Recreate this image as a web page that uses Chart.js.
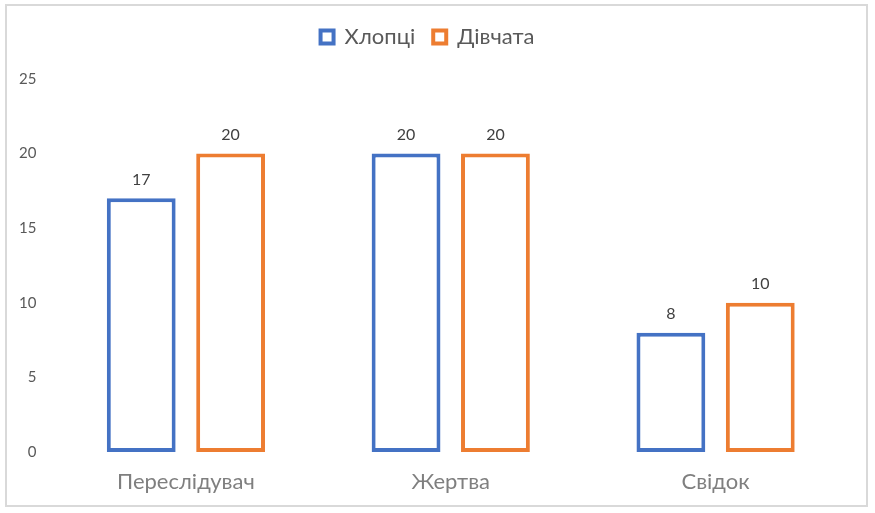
<!DOCTYPE html>
<html>
<head>
<meta charset="utf-8">
<script src="https://cdn.jsdelivr.net/npm/chart.js@4"></script>
<style>
  body { margin: 0; background: #fff; }
  #wrap {
    position: absolute; left: 5px; top: 4px;
    width: 859px; height: 499px;
    border: 2px solid #d9d9d9;
  }
</style>
</head>
<body>
<div id="wrap"><canvas id="myChart"></canvas></div>
<script>
const categories = ["Переслідувач", "Жертва", "Свідок"];
const boys = [17, 20, 8];
const girls = [20, 20, 10];
const seriesNames = ["Хлопці", "Дівчата"];
const yTicks = [0, 5, 10, 15, 20, 25];

// values above the bars
const barLabels = {
  id: "barLabels",
  afterDatasetsDraw(chart) {
    const c = chart.ctx;
    c.save();
    c.font = "16px Lato";
    c.fillStyle = "#404040";
    c.textAlign = "center";
    c.textBaseline = "middle";
    chart.data.datasets.forEach((ds, i) => {
      chart.getDatasetMeta(i).data.forEach((bar, j) => {
        c.fillText(ds.data[j], bar.x, bar.y - 19);
      });
    });
    c.restore();
  }
};

// extra room under the legend
const legendGap = {
  id: "legendGap",
  beforeInit(chart) {
    const fit = chart.legend.fit;
    chart.legend.fit = function () {
      fit.bind(chart.legend)();
      this.height += 21;
    };
  }
};

const ctx = document.getElementById("myChart");
const myChart = new Chart(ctx, {
  type: "bar",
  data: {
    labels: categories,
    datasets: [
      {
        label: seriesNames[0],
        data: boys,
        backgroundColor: "#ffffff",
        borderColor: "#4472c4",
        borderWidth: 4,
        borderSkipped: false,
      },
      {
        label: seriesNames[1],
        data: girls,
        backgroundColor: "#ffffff",
        borderColor: "#ed7d31",
        borderWidth: 4,
        borderSkipped: false,
      },
    ],
  },
  options: {
    responsive: true,
    maintainAspectRatio: false,
    animation: false,
    categoryPercentage: 0.675,
    barPercentage: 0.77,
    layout: { padding: { top: 2, right: 18, left: 0, bottom: 0 } },
    plugins: {
      legend: {
        position: "top",
        labels: {
          boxWidth: 13,
          boxHeight: 13,
          padding: 18,
          color: "#595959",
          font: { family: "Lato", size: 22 },
        },
      },
      tooltip: { enabled: false },
    },
    scales: {
      x: {
        grid: { display: false },
        border: { display: false },
        ticks: {
          color: "#7f7f7f",
          font: { family: "Lato", size: 22 },
          padding: 9,
        },
        afterFit(scale) { scale.height = 53; },
      },
      y: {
        min: 0,
        max: 25,
        afterBuildTicks(scale) { scale.ticks = yTicks.map(v => ({ value: v })); },
        grid: { display: false },
        border: { display: false },
        ticks: {
          color: "#595959",
          font: { family: "Lato", size: 15 },
          padding: 9,
        },
        afterFit(scale) { scale.width = 46.5; },
      },
    },
  },
  plugins: [barLabels, legendGap],
});
</script>
</body>
</html>
